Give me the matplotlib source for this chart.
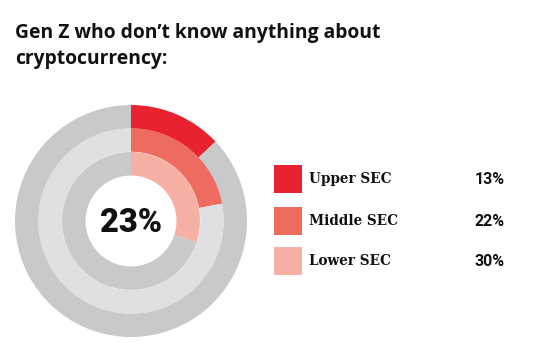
import matplotlib
matplotlib.use("Agg")
import matplotlib.pyplot as plt
from matplotlib.patches import Rectangle

title = "Gen Z who don\u2019t know anything about\ncryptocurrency:"
categories = ["Upper SEC", "Middle SEC", "Lower SEC"]
values = [13, 22, 30]
center_label = "23%"
colors = ["#e8232f", "#ee6b5f", "#f7b1a4"]
bg_colors = ["#c8c9cb", "#dfe0e2", "#c8c9cb"]

W, H = 544, 359
fig = plt.figure(figsize=(W / 100, H / 100), dpi=100)
fig.patch.set_facecolor("white")

# donut axes: centre (131,221) px, radius 116 px
cx, cy, R = 131, 221, 116
ax = fig.add_axes([(cx - R) / W, (H - cy - R) / H, 2 * R / W, 2 * R / H])
radii = [1.0, 0.80, 0.595]
width = 0.203
for v, c, bg, r in zip(values, colors, bg_colors, radii):
    ax.pie([v, 100 - v], colors=[c, bg], startangle=90, counterclock=False,
           radius=r, wedgeprops=dict(width=width, linewidth=0))
ax.set_xlim(-1, 1)
ax.set_ylim(-1, 1)
ax.set_aspect("equal")
ax.axis("off")
ax.text(0, -0.02, center_label, ha="center", va="center", fontsize=23.5,
        fontweight="heavy", family="Roboto", color="#111111")

line1, line2 = title.split("\n")
fig.text(15 / W, 1 - 38 / H, line1, ha="left", va="baseline", fontsize=13.9,
         fontweight="bold", family="Open Sans", color="#111111")
fig.text(15 / W, 1 - 64 / H, line2, ha="left", va="baseline", fontsize=13.9,
         fontweight="bold", family="Open Sans", color="#111111")

# legend
ys = [179, 221, 261]
for cat, v, c, y in zip(categories, values, colors, ys):
    fig.patches.append(Rectangle((274 / W, 1 - (y + 14) / H), 28 / W, 28 / H,
                                 transform=fig.transFigure, color=c, linewidth=0))
    fig.text(309 / W, 1 - y / H, cat, ha="left", va="center", fontsize=9.8,
             fontweight="bold", family="DejaVu Serif", color="#111111")
    fig.text(505 / W, 1 - y / H, f"{v}%", ha="right", va="center", fontsize=11.5,
             fontweight="bold", family="Roboto", color="#111111")

fig.savefig("out.png", dpi=100, facecolor="white")
